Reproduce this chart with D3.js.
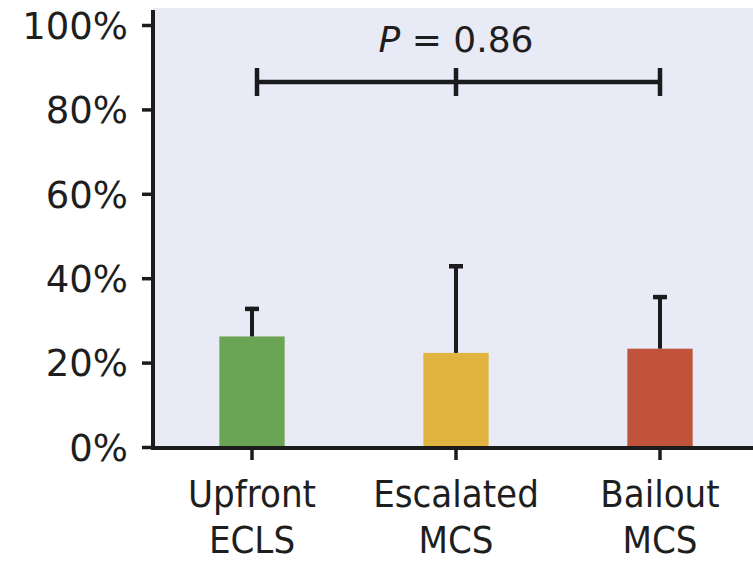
<!DOCTYPE html>
<html>
<head>
<meta charset="utf-8">
<script src="https://cdn.jsdelivr.net/npm/d3@7"></script>
<style>
  html, body { margin: 0; padding: 0; background: #ffffff; }
  svg { display: block; }
</style>
</head>
<body>
<svg id="chart" width="753" height="562"></svg>
<script>
// ---- data ----
const categories = ["Upfront ECLS", "Escalated MCS", "Bailout MCS"];
const categoryLines = [["Upfront", "ECLS"], ["Escalated", "MCS"], ["Bailout", "MCS"]];
const values = [26.2, 22.3, 23.3];
const errorUpper = [33.2, 43.3, 36.0];
const barColors = ["#6aa455", "#e1b440", "#c0533a"];
const yTicks = [0, 20, 40, 60, 80, 100];
const yTickLabels = ["0%", "20%", "40%", "60%", "80%", "100%"];
const pLabelItalic = "P";
const pLabelRest = " = 0.86";
const bracketLevel = 86.5;

// ---- layout ----
const svg = d3.select("#chart");
const W = 753, H = 562;
const axisX = 153, axisY = 448;
const ink = "#1b1b1d";

const y = d3.scaleLinear().domain([0, 100]).range([447, 25]);
const x = d3.scaleBand().domain(categories).range([150, 762])
  .paddingInner(0.68).paddingOuter(0.34);

// plot background
svg.append("rect")
  .attr("x", axisX).attr("y", 8)
  .attr("width", W - axisX).attr("height", axisY - 8)
  .attr("fill", "#e8eaf6");

// bars
svg.selectAll("rect.bar").data(categories).join("rect")
  .attr("class", "bar")
  .attr("x", d => x(d))
  .attr("width", x.bandwidth())
  .attr("y", (d, i) => y(values[i]))
  .attr("height", (d, i) => y(0) - y(values[i]) + 1)
  .attr("fill", (d, i) => barColors[i]);

// error bars (upper only)
const eb = svg.append("g").attr("stroke", ink);
categories.forEach((c, i) => {
  const cx = x(c) + x.bandwidth() / 2;
  eb.append("line")
    .attr("x1", cx).attr("x2", cx)
    .attr("y1", y(values[i])).attr("y2", y(errorUpper[i]))
    .attr("stroke-width", 4);
  eb.append("line")
    .attr("x1", cx - 7).attr("x2", cx + 7)
    .attr("y1", y(errorUpper[i]) + 2).attr("y2", y(errorUpper[i]) + 2)
    .attr("stroke-width", 4.5);
});

// y axis
const yAxis = d3.axisLeft(y).tickValues(yTicks)
  .tickFormat((d, i) => yTickLabels[i])
  .tickSize(11).tickPadding(14);
const gy = svg.append("g").attr("transform", `translate(${axisX},0)`).call(yAxis);
gy.select(".domain").remove();
gy.selectAll(".tick line").attr("stroke", ink).attr("stroke-width", 3.5);
gy.selectAll(".tick text")
  .attr("fill", "#1e1e1e")
  .attr("font-family", "DejaVu Sans, sans-serif")
  .attr("font-size", 37)
  .attr("dy", "0.36em");
svg.append("line")
  .attr("x1", axisX).attr("x2", axisX)
  .attr("y1", 10).attr("y2", axisY + 2)
  .attr("stroke", ink).attr("stroke-width", 4);

// x axis
const xAxis = d3.axisBottom(x).tickSize(12).tickFormat("");
const gx = svg.append("g").attr("transform", `translate(0,${axisY})`).call(xAxis);
gx.select(".domain").remove();
gx.selectAll(".tick line").attr("stroke", ink).attr("stroke-width", 3.5);
svg.append("line")
  .attr("x1", axisX - 2).attr("x2", W)
  .attr("y1", axisY).attr("y2", axisY)
  .attr("stroke", ink).attr("stroke-width", 4);

// category labels
categories.forEach((c, i) => {
  const cx = x(c) + x.bandwidth() / 2;
  const t = svg.append("text")
    .attr("x", cx).attr("y", 507)
    .attr("text-anchor", "middle")
    .attr("fill", "#1e1e1e")
    .attr("font-family", "DejaVu Sans, sans-serif")
    .attr("font-stretch", "condensed")
    .attr("font-size", 38);
  t.append("tspan").attr("x", cx).attr("y", 507).text(categoryLines[i][0]);
  t.append("tspan").attr("x", cx).attr("y", 553).text(categoryLines[i][1]);
});

// significance bracket
const bx0 = x(categories[0]) + x.bandwidth() / 2 + 5;
const bx1 = x(categories[1]) + x.bandwidth() / 2;
const bx2 = x(categories[2]) + x.bandwidth() / 2;
const by = y(bracketLevel);
const br = svg.append("g").attr("stroke", ink).attr("stroke-width", 4.5);
br.append("line").attr("x1", bx0).attr("x2", bx2).attr("y1", by).attr("y2", by);
[bx0, bx1, bx2].forEach(bx => {
  br.append("line").attr("x1", bx).attr("x2", bx).attr("y1", by - 14).attr("y2", by + 14);
});
const pt = svg.append("text")
  .attr("x", bx1).attr("y", 52)
  .attr("text-anchor", "middle")
  .attr("fill", "#1e1e1e")
  .attr("font-family", "DejaVu Sans, sans-serif")
  .attr("font-size", 36);
pt.append("tspan").attr("font-style", "italic").text(pLabelItalic);
pt.append("tspan").text(pLabelRest);
</script>
</body>
</html>
